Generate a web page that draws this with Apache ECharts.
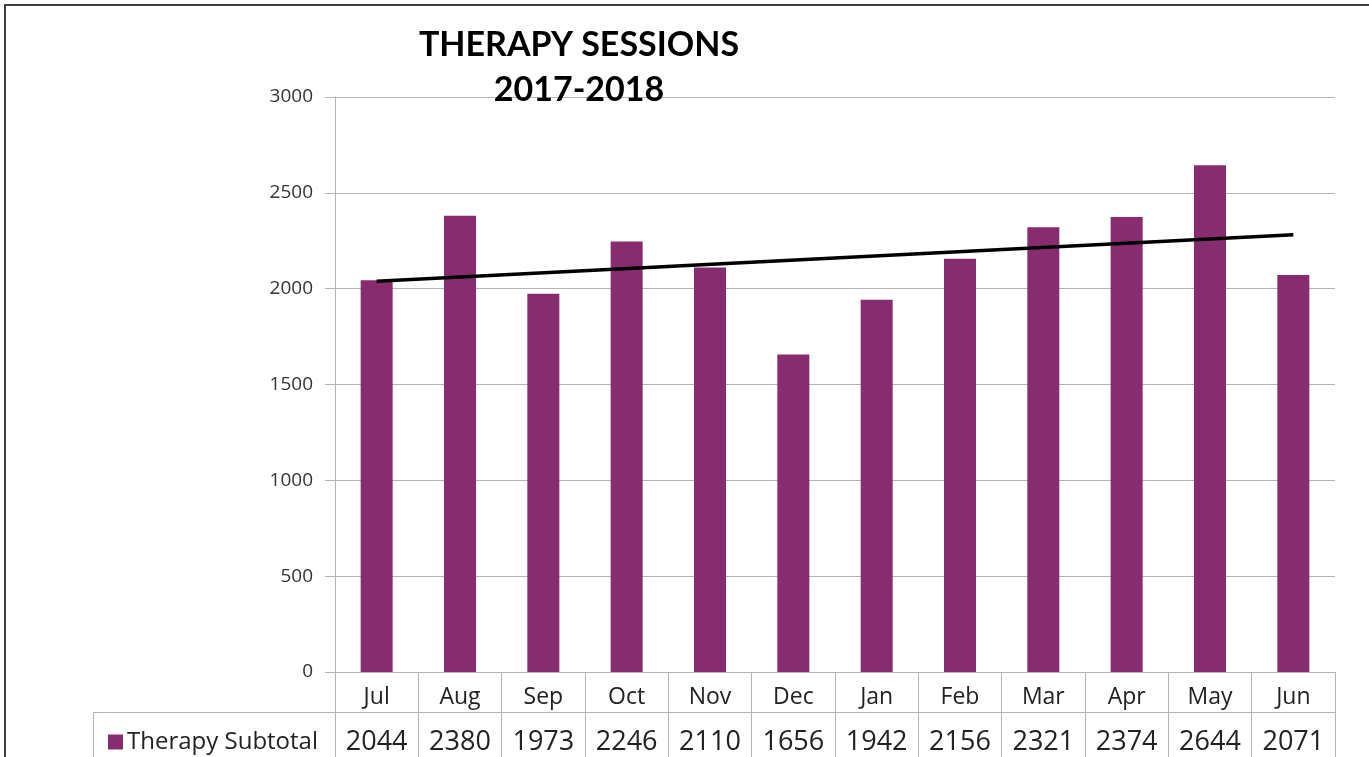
<!DOCTYPE html>
<html>
<head>
<meta charset="utf-8">
<script src="https://cdn.jsdelivr.net/npm/echarts@6/dist/echarts.min.js"></script>
<style>
html,body{margin:0;padding:0;background:#fff;}
#chart{width:1369px;height:757px;}
</style>
</head>
<body>
<div id="chart"></div>
<script>
const months = ['Jul','Aug','Sep','Oct','Nov','Dec','Jan','Feb','Mar','Apr','May','Jun'];
const therapySubtotal = [2044,2380,1973,2246,2110,1656,1942,2156,2321,2374,2644,2071];
const trendEnds = [2039, 2281];
const yTicks = [0,500,1000,1500,2000,2500,3000];
const seriesName = 'Therapy Subtotal';
const titleLines = ['THERAPY SESSIONS','2017-2018'];

const trendData = months.map((m,i)=> i===0 ? trendEnds[0] : (i===months.length-1 ? trendEnds[1] : null));

const chart = echarts.init(document.getElementById('chart'));
const gridColor = '#b4b4b4';
const tFont = 'Lato, "Open Sans", sans-serif';
const font = '"Open Sans", Lato, sans-serif';
chart.setOption({
  animation:false,
  backgroundColor:'#fff',
  title:{
    text: titleLines.join('\n'),
    left: 574, top: 18, textAlign:'center',
    textStyle:{fontFamily:tFont, fontWeight:'bold', fontSize:34, lineHeight:45, color:'#000'}
  },
  legend:{
    data:[seriesName], left:103, top:725, icon:'rect', itemWidth:15, itemHeight:15, itemGap:0,
    textStyle:{fontFamily:font, fontSize:24, color:'#222', padding:[0,0,0,-1]}
  },
  grid:{left:335, right:34, top:97, bottom:85, containLabel:false},
  xAxis:[{
    type:'category', data:months, position:'bottom',
    axisLine:{show:true, lineStyle:{color:gridColor, width:1}},
    axisTick:{show:true, alignWithLabel:false, length:90, lineStyle:{color:gridColor}},
    axisLabel:{fontFamily:font, fontSize:23, color:'#222', margin:14}
  },{
    type:'category', data:therapySubtotal.map(String), position:'bottom', offset:40,
    axisLine:{show:true, lineStyle:{color:gridColor, width:1}},
    axisTick:{show:false},
    axisLabel:{fontFamily:font, fontSize:27, color:'#222', margin:17}
  }],
  yAxis:{
    type:'value', min:yTicks[0], max:yTicks[yTicks.length-1], interval:500,
    axisLine:{show:true, lineStyle:{color:gridColor}},
    axisTick:{show:true, length:10, lineStyle:{color:gridColor}},
    splitLine:{show:true, lineStyle:{color:gridColor, width:1}},
    axisLabel:{fontFamily:font, fontSize:19, color:'#333', margin:22, formatter:(v)=>String(v)}
  },
  graphic:[
    {type:'rect', shape:{x:5,y:5,width:1400,height:800}, style:{fill:null, stroke:'#404040', lineWidth:2}, silent:true, z:-1},
    {type:'line', shape:{x1:93,y1:712.5,x2:335,y2:712.5}, style:{stroke:gridColor, lineWidth:1}},
    {type:'line', shape:{x1:93.5,y1:712,x2:93.5,y2:760}, style:{stroke:gridColor, lineWidth:1}}
  ],
  series:[{
    name:seriesName, type:'bar', data:therapySubtotal, barWidth:32,
    itemStyle:{color:'#872C6E'}
  },{
    name:'Trend', type:'line', data:trendData, connectNulls:true, symbol:'none',
    lineStyle:{color:'#000', width:3.5}, z:5
  }]
});
</script>
</body>
</html>
